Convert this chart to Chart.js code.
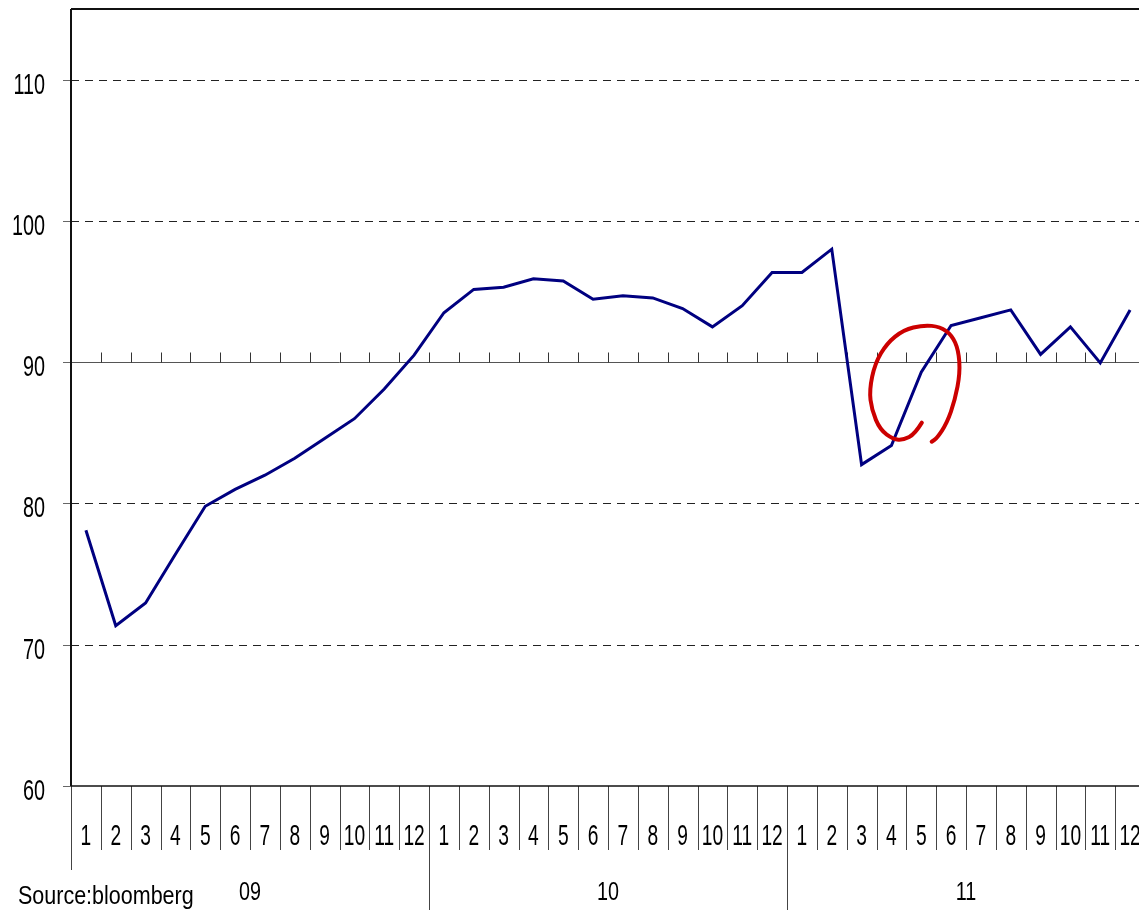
<!DOCTYPE html>
<html>
<head>
<meta charset="utf-8">
<script src="https://cdn.jsdelivr.net/npm/chart.js@4.4.1/dist/chart.umd.min.js"></script>
<style>
  html, body { margin: 0; padding: 0; background: #fff; overflow: hidden; }
  #wrap { width: 1150px; height: 910px; position: relative; }
</style>
</head>
<body>
<div id="wrap"><canvas id="c" width="1150" height="910"></canvas></div>
<script>
// ---- data ----
const years = ['09', '10', '11'];
const months = ['1','2','3','4','5','6','7','8','9','10','11','12'];
const values09 = [78.1, 71.35, 72.95, 76.4, 79.8, 81.0, 82.0, 83.2, 84.6, 86.0, 88.1, 90.5];
const values10 = [93.5, 95.15, 95.3, 95.9, 95.75, 94.45, 94.7, 94.55, 93.8, 92.5, 94.0, 96.35];
const values11 = [96.35, 98.0, 82.75, 84.1, 89.3, 92.6, 93.15, 93.7, 90.55, 92.5, 89.95, 93.7];
const yTicks = [60, 70, 80, 90, 100, 110];
const sourceText = 'Source:bloomberg';
// hand-drawn red mark, in (category index, value) units
const annotationStroke = [
  [28.02,85.72],[27.79,84.92],[27.40,84.49],[27.07,84.54],[26.62,85.21],[26.34,86.62],
  [26.26,88.03],[26.45,89.92],[26.85,91.34],[27.40,92.28],[28.07,92.63],[28.63,92.51],
  [29.02,91.93],[29.25,90.86],[29.30,89.21],[29.13,87.32],[28.86,85.68],[28.52,84.61],[28.35,84.37]
];

const labels = [];
years.forEach(y => months.forEach(m => labels.push(y + '-' + m)));
const values = [].concat(values09, values10, values11);

function txt(ctx, s, x, y, size, sx, align) {
  ctx.save();
  ctx.translate(x, y);
  ctx.scale(sx, 1);
  ctx.font = size + 'px "Liberation Sans", Arial, sans-serif';
  ctx.textAlign = align;
  ctx.textBaseline = 'alphabetic';
  ctx.fillStyle = '#000';
  ctx.fillText(s, 0, 0);
  ctx.restore();
}

const decor = {
  id: 'decor',
  beforeDatasetsDraw(chart) {
    const ctx = chart.ctx, a = chart.chartArea;
    const xs = chart.scales.x, ys = chart.scales.y;
    const n = labels.length;
    const cw = (a.right - a.left) / n;
    ctx.save();
    // gridlines
    yTicks.forEach(v => {
      const y = Math.round(ys.getPixelForValue(v)) + 0.5;
      if (v === 60) return;
      ctx.beginPath();
      if (v === 90) {
        ctx.setLineDash([]);
        ctx.strokeStyle = '#555';
        ctx.lineWidth = 1;
      } else {
        ctx.setLineDash([8, 6]);
        ctx.strokeStyle = '#222';
        ctx.lineWidth = 1;
      }
      ctx.moveTo(a.left, y);
      ctx.lineTo(a.right, y);
      ctx.stroke();
    });
    ctx.setLineDash([]);
    // ticks on the 90 line
    const y90 = Math.round(ys.getPixelForValue(90)) + 0.5;
    ctx.strokeStyle = '#333';
    ctx.lineWidth = 1;
    for (let i = 1; i < n; i++) {
      const x = Math.round(a.left + i * cw) + 0.5;
      ctx.beginPath();
      ctx.moveTo(x, y90);
      ctx.lineTo(x, y90 - 10);
      ctx.stroke();
    }
    // y tick marks
    ctx.strokeStyle = '#666';
    yTicks.forEach(v => {
      const y = Math.round(ys.getPixelForValue(v)) + 0.5;
      ctx.beginPath();
      ctx.moveTo(a.left - 8, y);
      ctx.lineTo(a.left, y);
      ctx.stroke();
    });
    // month separators below axis
    ctx.strokeStyle = '#444';
    for (let i = 1; i < n; i++) {
      const x = Math.round(a.left + i * cw) + 0.5;
      const yearEdge = i % 12 === 0;
      ctx.beginPath();
      ctx.moveTo(x, a.bottom);
      ctx.lineTo(x, yearEdge ? 912 : 850);
      ctx.stroke();
    }
    // left edge below axis
    ctx.beginPath();
    ctx.moveTo(a.left + 0.5, a.bottom);
    ctx.lineTo(a.left + 0.5, 870);
    ctx.stroke();
    // axis lines
    ctx.strokeStyle = '#111';
    ctx.lineWidth = 2;
    ctx.beginPath();
    ctx.moveTo(a.left, a.top);
    ctx.lineTo(a.right, a.top);
    ctx.moveTo(a.left, a.top);
    ctx.lineTo(a.left, a.bottom);
    ctx.stroke();
    ctx.lineWidth = 1.5;
    ctx.beginPath();
    ctx.moveTo(a.left, a.bottom);
    ctx.lineTo(a.right, a.bottom);
    ctx.stroke();
    ctx.restore();

    // labels
    yTicks.forEach(v => {
      txt(ctx, String(v), 45, ys.getPixelForValue(v) + 14, 30, 0.66, 'right');
    });
    labels.forEach((l, i) => {
      const m = months[i % 12];
      txt(ctx, m, xs.getPixelForValue(i), 845, 30, 0.64, 'center');
    });
    years.forEach((y, k) => {
      const x0 = a.left + k * 12 * cw, x1 = a.left + (k + 1) * 12 * cw;
      txt(ctx, y, (x0 + x1) / 2, 900, 25, 0.79, 'center');
    });
    txt(ctx, sourceText, 18, 903.5, 25, 0.86, 'left');
  },
  afterDatasetsDraw(chart) {
    const ctx = chart.ctx;
    const xs = chart.scales.x, ys = chart.scales.y;
    const pts = annotationStroke.map(p => [xs.getPixelForValue(p[0]), ys.getPixelForValue(p[1])]);
    ctx.save();
    ctx.strokeStyle = '#cc0000';
    ctx.lineWidth = 4;
    ctx.lineCap = 'round';
    ctx.lineJoin = 'round';
    ctx.beginPath();
    ctx.moveTo(pts[0][0], pts[0][1]);
    for (let i = 1; i < pts.length - 1; i++) {
      const mx = (pts[i][0] + pts[i + 1][0]) / 2, my = (pts[i][1] + pts[i + 1][1]) / 2;
      ctx.quadraticCurveTo(pts[i][0], pts[i][1], mx, my);
    }
    const last = pts[pts.length - 1];
    ctx.lineTo(last[0], last[1]);
    ctx.stroke();
    ctx.restore();
  }
};

new Chart(document.getElementById('c'), {
  type: 'line',
  data: {
    labels: labels,
    datasets: [{
      data: values,
      borderColor: '#000080',
      borderWidth: 3,
      pointRadius: 0,
      tension: 0,
      fill: false
    }]
  },
  options: {
    responsive: false,
    animation: false,
    devicePixelRatio: 1,
    layout: { padding: { left: 71, right: 5, top: 9, bottom: 124 } },
    plugins: { legend: { display: false }, tooltip: { enabled: false } },
    scales: {
      x: { type: 'category', offset: true, display: false },
      y: { min: 60, max: 115, display: false }
    }
  },
  plugins: [decor]
});
</script>
</body>
</html>
